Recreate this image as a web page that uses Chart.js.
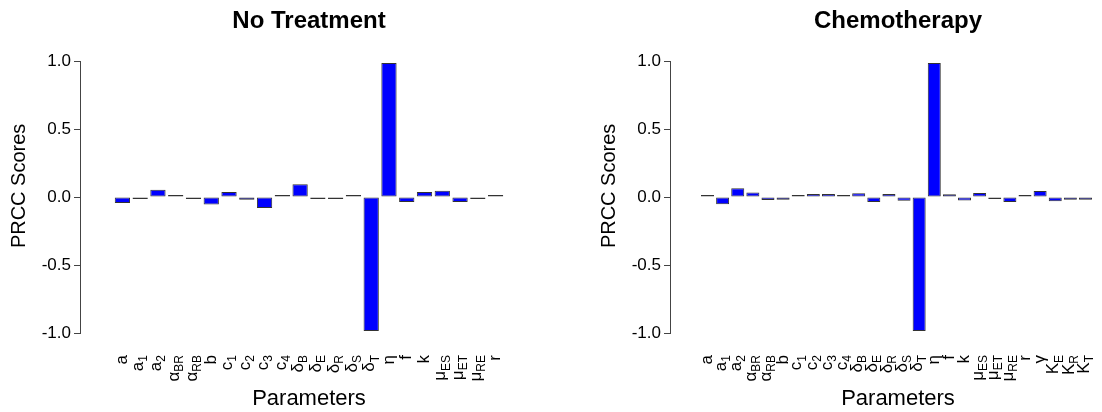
<!DOCTYPE html>
<html><head><meta charset="utf-8">
<script src="https://cdn.jsdelivr.net/npm/chart.js@4.4.1/dist/chart.umd.min.js"></script>
<style>
html,body{margin:0;padding:0;background:#fff;overflow:hidden;width:1102px;height:412px;}
#c1{position:absolute;left:0;top:0;}
#c2{position:absolute;left:590px;top:0;}
</style></head><body>
<canvas id="c1" width="560" height="412"></canvas>
<canvas id="c2" width="560" height="412"></canvas>
<script>
const FONT = '"Liberation Sans", Arial, Helvetica, sans-serif';

const parametersNoTreatment = ['a','a_1','a_2','α_BR','α_RB','b','c_1','c_2','c_3','c_4','δ_B','δ_E','δ_R','δ_S','δ_T','η','f','k','μ_ES','μ_ET','μ_RE','r'];
const prccNoTreatment = [-0.044,-0.006,0.054,0.012,-0.005,-0.056,0.037,-0.02,-0.08,0.005,0.093,-0.006,-0.006,0.015,-0.985,0.985,-0.037,0.037,0.046,-0.037,-0.008,0.012];

const parametersChemotherapy = ['a','a_1','a_2','α_BR','α_RB','b','c_1','c_2','c_3','c_4','δ_B','δ_E','δ_R','δ_S','δ_T','η','f','k','μ_ES','μ_ET','μ_RE','r','γ','K_E','K_R','K_T'];
const prccChemotherapy = [0.005,-0.054,0.064,0.034,-0.022,-0.02,0.004,0.022,0.022,0.004,0.027,-0.037,0.022,-0.027,-0.985,0.985,0.02,-0.025,0.03,-0.015,-0.037,0.004,0.044,-0.032,-0.02,-0.02];

const yTicks = [-1, -0.5, 0, 0.5, 1];

function subLabelPlugin(categories) {
  return { id: 'subLabels', afterDraw(chart) {
    const ctx = chart.ctx, xs = chart.scales.x;
    const yEnd = chart.chartArea.bottom + 22;
    ctx.save();
    ctx.fillStyle = '#000';
    categories.forEach((c, i) => {
      const parts = c.split('_');
      const main = parts[0], sub = parts[1];
      const x = xs.getPixelForValue(i);
      ctx.font = '17px ' + FONT;
      const mw = ctx.measureText(main).width;
      let sw = 0;
      if (sub) { ctx.font = '12px ' + FONT; sw = ctx.measureText(sub).width; }
      ctx.save();
      ctx.translate(x, yEnd);
      ctx.rotate(-Math.PI / 2);
      ctx.textAlign = 'left';
      ctx.textBaseline = 'middle';
      ctx.font = '17px ' + FONT;
      ctx.fillText(main, -(mw + sw), sub ? -1.5 : 0);
      if (sub) { ctx.font = '12px ' + FONT; ctx.fillText(sub, -sw, 4); }
      ctx.restore();
    });
    ctx.restore();
  }};
}

function makeChart(id, titleText, categories, values, xMin, xMax, padRight) {
  return new Chart(document.getElementById(id), {
    type: 'bar',
    data: { datasets: [{
      data: values.map((v, i) => ({ x: i, y: v })),
      backgroundColor: '#0000FF', borderColor: '#333333', borderWidth: 1,
      borderSkipped: false, barPercentage: 0.86, categoryPercentage: 1,
      minBarLength: 2, clip: false
    }]},
    options: {
      responsive: false, animation: false, devicePixelRatio: 1,
      layout: { padding: { left: 0, right: padRight, top: 0, bottom: 0 } },
      plugins: {
        legend: { display: false }, tooltip: { enabled: false },
        title: { display: true, text: titleText, fullSize: false, color: '#000',
          font: { family: FONT, size: 24, weight: 'bold' }, padding: { top: 7, bottom: 25.2 } }
      },
      scales: {
        x: { type: 'linear', position: 'bottom', min: xMin, max: xMax,
          grid: { display: false }, border: { display: false },
          ticks: { display: false },
          afterBuildTicks: s => { s.ticks = categories.map((_, i) => ({ value: i })); },
          afterFit: s => { s.height = 79; },
          title: { display: true, text: 'Parameters', color: '#000',
            font: { family: FONT, size: 22 }, padding: { top: 0, bottom: 0 } } },
        y: { min: -1, max: 1,
          afterBuildTicks: s => { s.ticks = yTicks.map(v => ({ value: v })); },
          ticks: { callback: v => v.toFixed(1), color: '#000', font: { family: FONT, size: 17 }, padding: 3 },
          grid: { display: true, drawOnChartArea: false, drawTicks: true, tickLength: 6, color: '#444' },
          border: { display: true, color: '#444', width: 1 },
          afterFit: s => { s.width = 80; },
          title: { display: true, text: '    PRCC Scores', color: '#000',
            font: { family: FONT, size: 20 }, padding: { top: 7, bottom: 0 } } }
      }
    },
    plugins: [subLabelPlugin(categories)]
  });
}

makeChart('c1', 'No Treatment', parametersNoTreatment, prccNoTreatment, -1.8, 22.8, 22);
makeChart('c2', 'Chemotherapy', parametersChemotherapy, prccChemotherapy, -1.9, 27.1, 24);
</script>
</body></html>
